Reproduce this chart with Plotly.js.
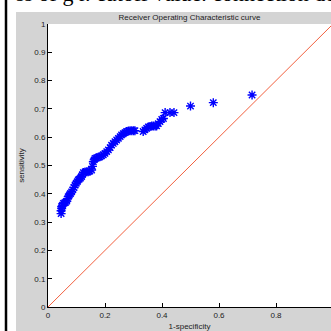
<!DOCTYPE html>
<html>
<head>
<meta charset="utf-8">
<script src="https://cdn.plot.ly/plotly-3.0.1.min.js"></script>
<style>html,body{margin:0;padding:0;background:#fff;}#chart{width:331px;height:331px;}</style>
</head>
<body>
<div id="chart"></div>
<script>
// ROC points (1-specificity, sensitivity)
const fpr = [0.046,0.046,0.048,0.048,0.051,0.054,0.058,0.062,0.066,0.069,0.071,0.075,0.079,0.083,0.087,0.091,0.095,0.099,0.103,0.106,0.110,0.114,0.118,0.121,0.124,0.130,0.136,0.141,0.147,0.153,0.156,0.159,0.162,0.165,0.170,0.176,0.182,0.188,0.194,0.200,0.206,0.212,0.218,0.223,0.229,0.235,0.241,0.247,0.253,0.258,0.264,0.270,0.276,0.282,0.288,0.294,0.300,0.305,0.334,0.340,0.346,0.352,0.358,0.364,0.370,0.376,0.381,0.387,0.393,0.399,0.405,0.411,0.428,0.442,0.500,0.580,0.716];
const tpr = [0.330,0.340,0.348,0.355,0.360,0.366,0.368,0.370,0.374,0.383,0.390,0.396,0.401,0.407,0.414,0.422,0.431,0.437,0.443,0.449,0.452,0.456,0.461,0.468,0.475,0.477,0.478,0.478,0.480,0.484,0.497,0.513,0.520,0.525,0.527,0.529,0.531,0.534,0.538,0.543,0.549,0.555,0.563,0.572,0.578,0.584,0.590,0.596,0.602,0.608,0.612,0.616,0.620,0.622,0.623,0.623,0.623,0.623,0.620,0.626,0.631,0.636,0.638,0.640,0.640,0.640,0.640,0.648,0.655,0.663,0.666,0.687,0.687,0.687,0.710,0.722,0.749];
// chance diagonal
const diagX = [0, 1];
const diagY = [0, 1];
const xTicks = [0, 0.2, 0.4, 0.6, 0.8];
const yTicks = [0, 0.1, 0.2, 0.3, 0.4, 0.5, 0.6, 0.7, 0.8, 0.9, 1];
const titleText = 'Receiver Operating Characteristic curve';
const xLabel = '1-specificity';
const yLabel = 'sensitivity';
const docText = 'ss of g r. cutoff value. connection den';

const font = {family: 'Liberation Sans, Arial, sans-serif', size: 8, color: '#222'};

const traces = [
  {x: diagX, y: diagY, mode: 'lines', line: {color: '#f2603f', width: 1}, hoverinfo: 'skip'},
  {x: fpr, y: tpr, mode: 'markers',
   marker: {symbol: 'asterisk-open', size: 7.5, color: '#0000ff', line: {color: '#0a2cff', width: 1.4}}}
];

const layout = {
  width: 331, height: 331,
  margin: {l: 48, r: 0, t: 24, b: 24, pad: 0},
  paper_bgcolor: '#ffffff',
  plot_bgcolor: '#ffffff',
  showlegend: false,
  font: font,
  title: {text: titleText, font: {family: font.family, size: 8, color: '#222'},
          x: 0.5, xref: 'paper', y: 1 - 17/331, yref: 'container', yanchor: 'middle'},
  xaxis: {range: [0, 283/285], tickvals: xTicks, ticktext: xTicks.map(String),
          showline: true, linecolor: '#000', linewidth: 1, ticks: 'inside', ticklen: 4,
          tickcolor: '#000', showgrid: false, zeroline: false, mirror: false,
          tickfont: font, fixedrange: true,
          title: {text: xLabel, font: font, standoff: 4}},
  yaxis: {range: [0, 1], tickvals: yTicks, ticktext: yTicks.map(String),
          showline: true, linecolor: '#000', linewidth: 1, ticks: 'inside', ticklen: 4,
          tickcolor: '#000', showgrid: false, zeroline: false, mirror: false,
          tickfont: font, fixedrange: true,
          title: {text: yLabel, font: font, standoff: 8}},
  shapes: [
    {type: 'rect', xref: 'paper', yref: 'paper', x0: -32/283, x1: 1.01, y0: -0.09, y1: (307-12)/283,
     fillcolor: '#d4d4d4', line: {width: 0}, layer: 'below'},
    {type: 'rect', xref: 'paper', yref: 'paper', x0: 0, x1: 1.01, y0: 0, y1: 1,
     fillcolor: '#ffffff', line: {width: 0}, layer: 'below'},
    {type: 'line', xref: 'paper', yref: 'paper', x0: -42/283, x1: -42/283, y0: -0.1, y1: 1.1,
     line: {color: '#000', width: 2.5}, layer: 'above'}
  ],
  annotations: [
    {text: docText, xref: 'paper', yref: 'paper', x: -34/283, y: (307-8)/283,
     xanchor: 'left', yanchor: 'bottom', showarrow: false,
     font: {family: 'Liberation Serif, Times New Roman, serif', size: 22, color: '#000'}}
  ]
};

Plotly.newPlot('chart', traces, layout, {displayModeBar: false, staticPlot: true});
</script>
</body>
</html>
